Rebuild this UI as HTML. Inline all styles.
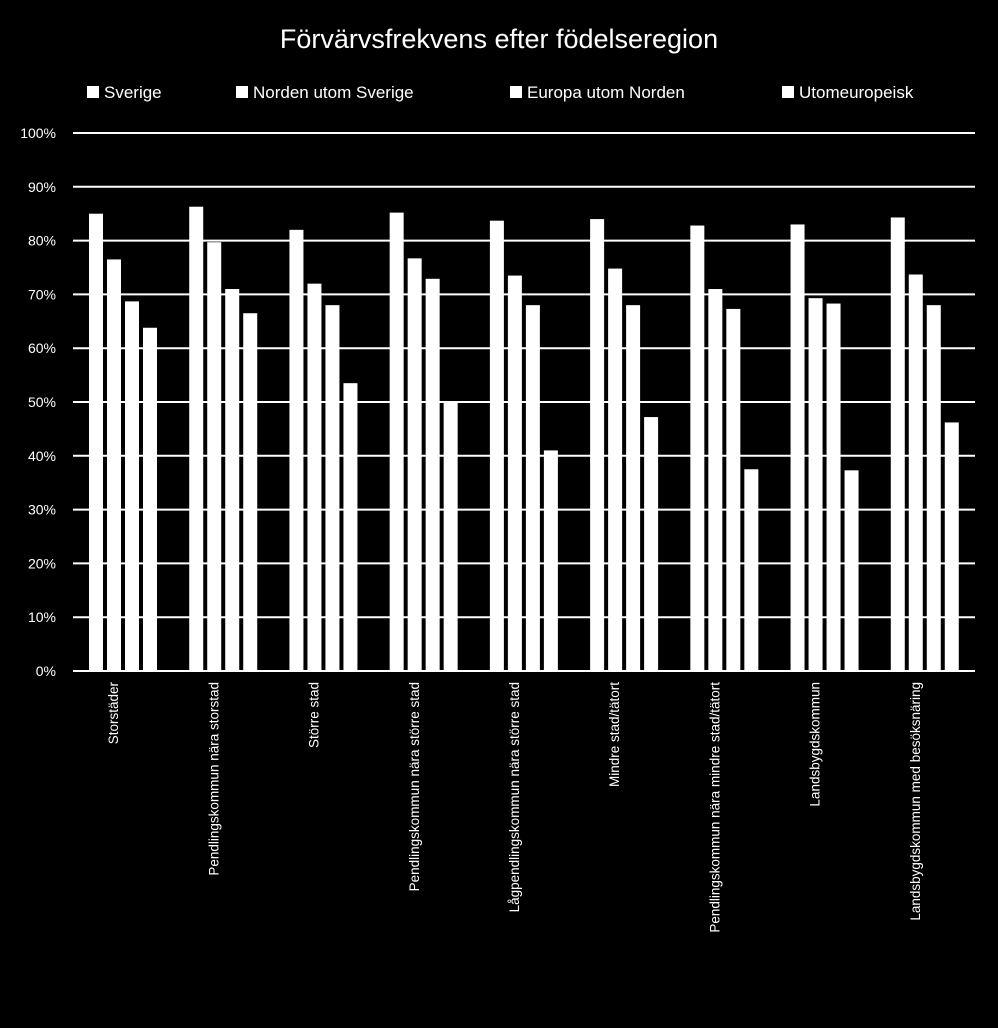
<!DOCTYPE html>
<html><head><meta charset="utf-8"><style>
body{margin:0;background:#000;width:998px;height:1023px;overflow:hidden;font-family:"Liberation Sans",sans-serif}
svg text{fill:#fff;font-family:"Liberation Sans",sans-serif}
</style></head><body>
<svg id="chart" width="998" height="1023" xmlns="http://www.w3.org/2000/svg">
<rect width="998" height="1023" fill="#000"/>
<text x="499" y="48" text-anchor="middle" font-size="27">Förvärvsfrekvens efter födelseregion</text>
<g id="legend"></g>
<g id="grid"></g>
<g id="bars"></g>
<g id="xlabels"></g>
</svg>
<script>
const categories=["Storstäder","Pendlingskommun nära storstad","Större stad","Pendlingskommun nära större stad","Lågpendlingskommun nära större stad","Mindre stad/tätort","Pendlingskommun nära mindre stad/tätort","Landsbygdskommun","Landsbygdskommun med besöksnäring"];
const seriesNames=["Sverige","Norden utom Sverige","Europa utom Norden","Utomeuropeisk"];
const sverige=[85,86.3,82,85.2,83.7,84,82.8,83,84.3];
const norden=[76.5,79.7,72,76.7,73.5,74.8,71,69.3,73.7];
const europa=[68.7,71,68,72.9,68,68,67.3,68.3,68];
const utomeuropeisk=[63.8,66.5,53.5,50,41,47.2,37.5,37.3,46.2];
const yTicks=[0,10,20,30,40,50,60,70,80,90,100];
const tickLabels=yTicks.map(v=>v+"%");
const legendX=[87,236,510,782];

const NS="http://www.w3.org/2000/svg";
const x0=73,x1=975,yBase=671,yTop=133;
const y=v=>yBase-(v/100)*(yBase-yTop);
const bandW=(x1-x0)/categories.length;
const bandX=i=>x0+i*bandW;
function mk(t,a,p){const e=document.createElementNS(NS,t);for(const k in a)e.setAttribute(k,a[k]);p.appendChild(e);return e;}
const grid=document.getElementById('grid');
yTicks.forEach((v,i)=>{
  const l=mk('line',{x1:x0,x2:x1,y1:y(v),y2:y(v),stroke:'#fff','stroke-width':2},grid);
  
  
  const t=mk('text',{x:56,y:y(v)+5,'text-anchor':'end','font-size':14},grid);
  t.textContent=tickLabels[i];
  
  
});
const series=[sverige,norden,europa,utomeuropeisk];
const bars=document.getElementById('bars');
series.forEach((s,si)=>{
  s.forEach((v,ci)=>{
    const bx=bandX(ci)+16+si*18;
    const r=mk('rect',{x:bx,y:y(v),width:14,height:yBase-y(v),fill:'#fff'},bars);
    
    
  });
});
const xl=document.getElementById('xlabels');
categories.forEach((c,ci)=>{
  const cx=bandX(ci)+bandW/2-5;
  const t=mk('text',{transform:`translate(${cx},682) rotate(-90)`,'text-anchor':'end','font-size':13.5},xl);
  t.textContent=c;
  
  
});
const lg=document.getElementById('legend');
seriesNames.forEach((n,i)=>{
  const r=mk('rect',{x:legendX[i],y:86,width:12,height:12,fill:'#fff'},lg);
  
  
  const t=mk('text',{x:legendX[i]+17,y:98,'font-size':17},lg);
  t.textContent=n;
  
  
});
</script>
</body></html>
